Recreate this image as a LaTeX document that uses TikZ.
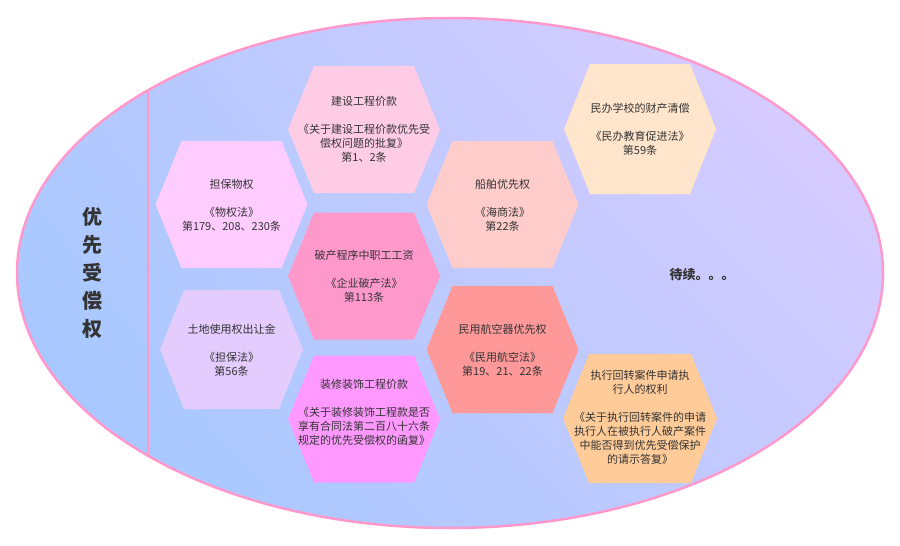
\documentclass[tikz,border=0pt]{standalone}
\usepackage{fontspec}
\setmainfont{Noto Sans CJK SC}
\usetikzlibrary{shadings}
\definecolor{rimpink}{HTML}{FF99CC}
\definecolor{txtgray}{HTML}{333333}
\definecolor{bgUL}{HTML}{B2C9FF}
\definecolor{bgLL}{HTML}{A0C8FF}
\definecolor{bgUR}{HTML}{E0CCFF}
\definecolor{bgLR}{HTML}{C6CAFF}
\definecolor{hxA}{HTML}{FFCCFF}
\definecolor{hxB}{HTML}{FFCCE6}
\definecolor{hxC}{HTML}{FF99CC}
\definecolor{hxD}{HTML}{E5CCFF}
\definecolor{hxE}{HTML}{FF99FF}
\definecolor{hxF}{HTML}{FFCCCC}
\definecolor{hxG}{HTML}{FFE5CC}
\definecolor{hxH}{HTML}{FF9999}
\definecolor{hxI}{HTML}{FFCC99}

\begin{document}
\begin{tikzpicture}[x=1pt,y=-1pt, line join=round, line cap=round,
	hextext/.style={text=txtgray, font=\fontsize{11}{14}\selectfont, align=center},
	title/.style={text=txtgray, font=\fontsize{20}{28}\selectfont\bfseries, align=center}]
	\useasboundingbox (0,0) rectangle (900,546);
	% background ellipse
	\shade[upper left=bgUL, lower left=bgLL, upper right=bgUR, lower right=bgLR]
		(450,273) ellipse [x radius=433pt, y radius=255pt];
	\draw[rimpink, line width=2.5pt] (450,273) ellipse [x radius=433pt, y radius=255pt];
	\draw[rimpink, line width=2pt] (148,90)--(148,456);
	\node[title] (root) at (92,273) {优\\先\\受\\偿\\权};
	% hexagons
	\foreach \cx/\cy/\w/\h/\d/\c in {231.5/204.5/76/63.5/26/hxA, 364/129.5/76/63.5/26/hxB,
		364/276/76/63.5/26/hxC, 231.5/349.5/71.5/59.5/24/hxD, 364/419/76/63.5/26/hxE,
		502.5/204.5/76/63.5/26/hxF, 640/129/76/65/26/hxG, 502.5/349.5/76/63.5/26/hxH,
		640/418.5/77/64.5/26/hxI}
	{\fill[\c] ({\cx-\w},\cy)--({\cx-\w+\d},{\cy-\h})--({\cx+\w-\d},{\cy-\h})--({\cx+\w},\cy)
		--({\cx+\w-\d},{\cy+\h})--({\cx-\w+\d},{\cy+\h})--cycle;}
	\node[hextext] (danbao) at (231.5,205) {担保物权\\[14pt]《物权法》\\第179、208、230条};
	\node[hextext] (jianshe) at (364,129.5) {建设工程价款\\[14pt]《关于建设工程价款优先受\\偿权问题的批复》\\第1、2条};
	\node[hextext] (pochan) at (364,276) {破产程序中职工工资\\[14pt]《企业破产法》\\第113条};
	\node[hextext] (tudi) at (231.5,350) {土地使用权出让金\\[14pt]《担保法》\\第56条};
	\node[hextext] (zhuangxiu) at (364,412) {装修装饰工程价款\\[14pt]《关于装修装饰工程款是否\\享有合同法第二百八十六条\\规定的优先受偿权的函复》};
	\node[hextext] (chuanbo) at (502.5,205) {船舶优先权\\[14pt]《海商法》\\第22条};
	\node[hextext] (minban) at (640,129) {民办学校的财产清偿\\[14pt]《民办教育促进法》\\第59条};
	\node[hextext] (hangkong) at (502.5,350) {民用航空器优先权\\[14pt]《民用航空法》\\第19、21、22条};
	\node[hextext] (zhixing) at (640,417.5) {执行回转案件申请执\\行人的权利\\[14pt]《关于执行回转案件的申请\\执行人在被执行人破产案件\\中能否得到优先受偿保护\\的请示答复》};
	\node[text=txtgray, font=\fontsize{13}{15}\selectfont\bfseries, anchor=west] (daixu) at (666,275) {待续。。。};
\end{tikzpicture}
\end{document}
